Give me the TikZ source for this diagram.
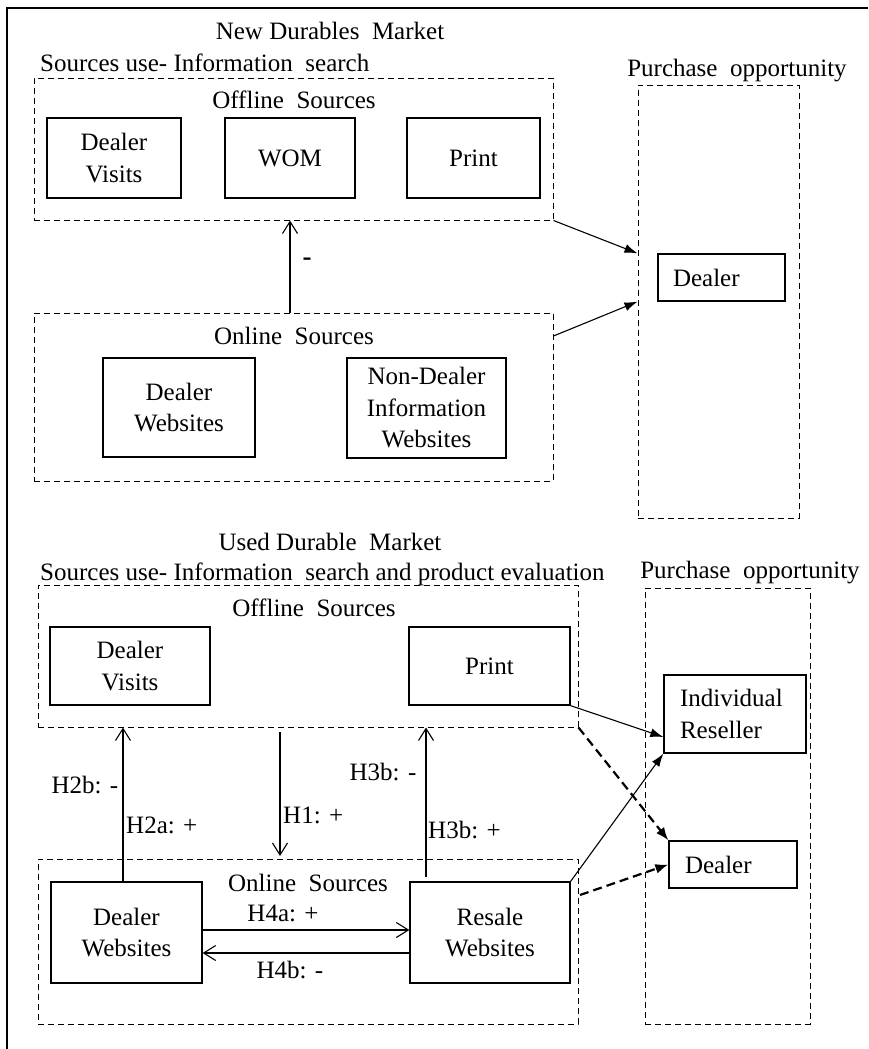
\documentclass[tikz,border=0pt]{standalone}
\usepackage{fontspec}
\setmainfont{Liberation Serif}
\usetikzlibrary{arrows.meta,calc}
\begin{document}
\begin{tikzpicture}[x=1pt,y=-1pt,
  txt/.style={font=\fontsize{25}{31.5}\selectfont, inner sep=0pt},
  box/.style={draw, line width=1.3pt, inner sep=0pt, align=center, font=\fontsize{25}{31.5}\selectfont},
  lbox/.style={draw, line width=1.3pt, inner ysep=0pt, align=left, font=\fontsize{25}{31.5}\selectfont},
  grp/.style={draw, line width=1pt, dash pattern=on 6pt off 4pt, inner sep=0pt},
  arr/.style={line width=1.1pt, -{Latex[length=13pt,width=9pt]}},
  oarr/.style={line width=1.1pt, -{Straight Barb[length=12pt,width=15pt]}},
  darr/.style={line width=2.2pt, dash pattern=on 9pt off 5pt, -{Latex[length=13pt,width=10pt]}},
]
\useasboundingbox (0,0) rectangle (868,1049);
\draw[line width=1.6pt] (7,1049) -- (7,8) -- (868,8);

% ---------- New durables market ----------
\node[txt] (t1) at (330,31) {New Durables\ \ Market};
\node[txt, anchor=west] (s1) at (40,63) {Sources use- Information\ \ search};
\node[txt] (p1) at (737,71) {Purchase\ \ opportunity};

\node[grp, minimum width=519pt, minimum height=142pt] (off1) at (293.5,149) {};
\node[txt] (off1t) at (294,100) {Offline\ \ Sources};
\node[box, minimum width=134pt, minimum height=80pt] (dv1) at (114,158) {Dealer\\Visits};
\node[box, minimum width=130pt, minimum height=80pt] (wom) at (290,158) {WOM};
\node[box, minimum width=133pt, minimum height=80pt] (pr1) at (473.5,158) {Print};

\node[grp, minimum width=161pt, minimum height=433pt] (pur1) at (718.5,301.5) {};
\node[lbox, text width=97pt, inner xsep=15pt, minimum height=47pt] (dl1) at (721.5,277.5) {Dealer};

\node[grp, minimum width=519pt, minimum height=168pt] (on1) at (293.5,397) {};
\node[txt] (on1t) at (294,336) {Online\ \ Sources};
\node[box, minimum width=152pt, minimum height=99pt] (dw1) at (179,407.5) {Dealer\\Websites};
\node[box, minimum width=159pt, minimum height=100pt] (nd1) at (426.5,408) {Non-Dealer\\Information\\Websites};

\draw[oarr] (on1.north -| wom) -- (off1.south -| wom);
\node[txt, font=\fontsize{27}{31.5}\selectfont\bfseries] (minus) at (307,262) {-};
\draw[arr] (off1.south east) -- (pur1.west |- dl1.north);
\draw[arr] (on1.east |- on1t) -- (pur1.west |- dl1.south);

% ---------- Used durable market ----------
\node[txt] (t2) at (330,542) {Used Durable\ \ Market};
\node[txt, anchor=west] (s2) at (40,574) {Sources use- Information\ \ search and product evaluation};
\node[txt] (p2) at (750,573) {Purchase\ \ opportunity};

\node[grp, minimum width=540pt, minimum height=142pt] (off2) at (308,656) {};
\node[txt] (off2t) at (314,608) {Offline\ \ Sources};
\node[box, minimum width=160pt, minimum height=78pt] (dv2) at (130,666) {Dealer\\Visits};
\node[box, minimum width=161pt, minimum height=78pt] (pr2) at (489.5,666) {Print};

\node[grp, minimum width=165pt, minimum height=436pt] (pur2) at (727.5,806) {};
\node[lbox, text width=110pt, inner xsep=16pt, minimum height=78pt] (ir) at (735,714) {Individual\\Reseller};
\node[lbox, text width=96pt, inner xsep=16pt, minimum height=47pt] (dl2) at (733,864.5) {Dealer};

\node[grp, minimum width=540pt, minimum height=165pt] (on2) at (308,941.5) {};
\node[txt] (on2t) at (308,883) {Online\ \ Sources};
\node[box, minimum width=151pt, minimum height=101pt] (dw2) at (126.5,932.5) {Dealer\\Websites};
\node[box, minimum width=160pt, minimum height=101pt] (rw) at (490,932.5) {Resale\\Websites};

\coordinate (h1s) at (280,732);
\coordinate (h1e) at (280,856);
\coordinate (h2) at (123,0);
\coordinate (h3s) at (426,877);
\coordinate (h4a) at (300,930);
\coordinate (h4b) at (300,953);
\coordinate (irin) at (664,737);
\coordinate (on2out) at (580,895);

\draw[oarr] (dw2.north -| h2) -- (off2.south -| h2);
\node[txt] (h2b) at (85,785) {H2b: -};
\node[txt, anchor=west] (h2a) at (126,825) {H2a: +};

\draw[oarr] (h1s) -- (h1e);
\node[txt, anchor=west] (h1) at (283,815) {H1: +};

\draw[oarr] (h3s) -- (h3s |- off2.south);
\node[txt] (h3m) at (383,772) {H3b: -};
\node[txt, anchor=west] (h3p) at (428,830) {H3b: +};

\draw[oarr] (dw2.east |- h4a) -- (rw.west |- h4a);
\draw[oarr] (rw.west |- h4b) -- (dw2.east |- h4b);
\node[txt] (h4at) at (283,913) {H4a: +};
\node[txt] (h4bt) at (290,970) {H4b: -};

\draw[arr] (pr2.south east) -- (ir.west |- irin);
\draw[darr] (off2.south east) -- (dl2.north west);
\draw[arr] (rw.north east) -- (ir.south west);
\draw[darr] (on2out) -- (dl2.west);
\end{tikzpicture}
\end{document}
